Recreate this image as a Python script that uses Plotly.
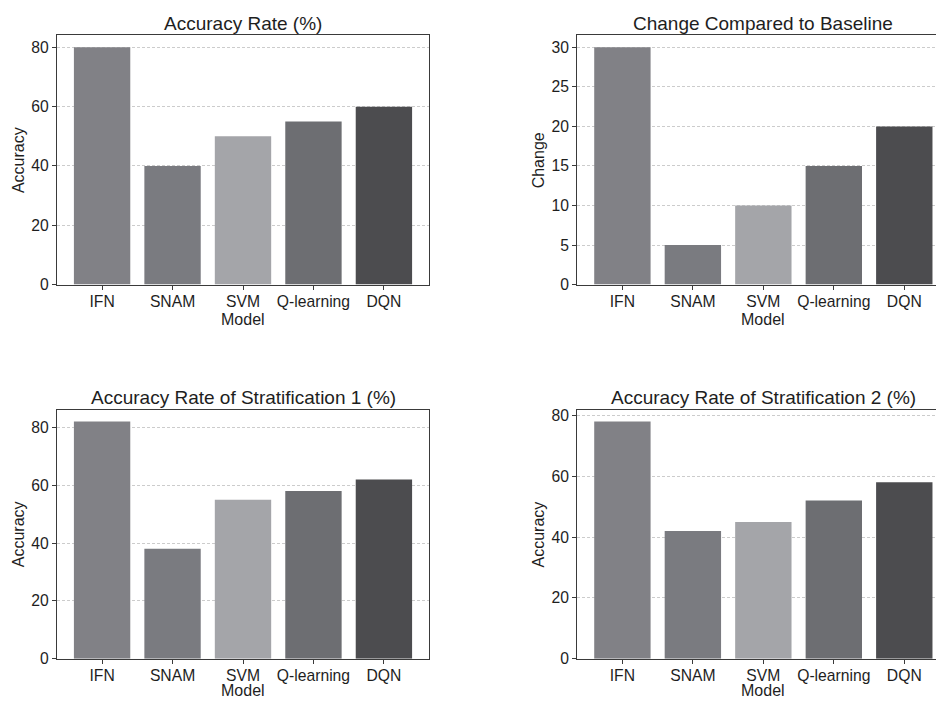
import plotly.graph_objects as go
from plotly.subplots import make_subplots

models = ["IFN", "SNAM", "SVM", "Q-learning", "DQN"]
accuracy = [80, 40, 50, 55, 60]
change = [30, 5, 10, 15, 20]
strat1 = [82, 38, 55, 58, 62]
strat2 = [78, 42, 45, 52, 58]
colors = ["#818186", "#7a7b80", "#a4a5a9", "#6d6e72", "#4c4c4f"]

titles = ["Accuracy Rate (%)", "Change Compared to Baseline",
          "Accuracy Rate of Stratification 1 (%)", "Accuracy Rate of Stratification 2 (%)"]
ylabels = ["Accuracy", "Change", "Accuracy", "Accuracy"]
series = [accuracy, change, strat1, strat2]
dticks = [20, 5, 20, 20]

# figure slightly taller than the 706 px window: the bottom "Model" labels sit at the edge
W, H = 936, 716
fig = make_subplots(rows=2, cols=2)

# pixel frames (left, right, top, bottom)
frames = [(57, 429, 33, 286), (577.3, 936, 33, 286),
          (57, 429, 413, 666), (577.3, 936, 413, 666)]
xranges = [[-0.64, 4.64], [-0.64, 4.45], [-0.64, 4.64], [-0.64, 4.45]]

font = "Liberation Sans, Arial, sans-serif"
axis_color = "#3a3a3a"
text_color = "#1e1e1e"

for i, vals in enumerate(series):
    r, c = i // 2 + 1, i % 2 + 1
    fig.add_trace(go.Bar(x=list(range(len(models))), y=vals, marker_color=colors,
                         marker_line_width=0, width=0.8, showlegend=False), row=r, col=c)
    l, rt, t, b = frames[i]
    ax = "" if i == 0 else str(i + 1)
    ymax = max(vals) * 1.05
    full = i % 2 == 0
    fig.layout["xaxis" + ax].update(
        domain=[l / W, rt / W], range=xranges[i], tickmode="array",
        tickvals=list(range(len(models))), ticktext=models,
        showline=True, linecolor=axis_color, linewidth=1.2, mirror=True,
        ticks="outside", ticklen=4, tickcolor=axis_color, showgrid=False, zeroline=False,
        ticklabelstandoff=-2,
        tickfont=dict(family=font, size=15.7, color=text_color))
    fig.layout["yaxis" + ax].update(
        domain=[1 - b / H, 1 - t / H], range=[0, ymax], dtick=dticks[i],
        showline=True, linecolor=axis_color, linewidth=1.2, mirror=full,
        ticks="outside", ticklen=4, tickcolor=axis_color,
        showgrid=True, gridcolor="#cccccc", griddash="3px,2px", gridwidth=0.8,
        zeroline=False, tickfont=dict(family=font, size=15.7, color=text_color))
    cx = (l + (l + 372)) / 2
    fig.add_annotation(x=cx / W, y=1 - (t - 12) / H, xref="paper", yref="paper",
                       text=titles[i], showarrow=False, xanchor="center", yanchor="middle",
                       font=dict(family=font, size=19, color=text_color))
    fig.add_annotation(x=(l - 39) / W, y=1 - ((t + b) / 2) / H, xref="paper", yref="paper",
                       text=ylabels[i], showarrow=False, textangle=-90,
                       xanchor="center", yanchor="middle",
                       font=dict(family=font, size=16, color=text_color))
    my = b + 35 if i < 2 else b + 32
    fig.add_annotation(x=cx / W, y=1 - my / H, xref="paper", yref="paper",
                       text="Model", showarrow=False, xanchor="center", yanchor="middle",
                       font=dict(family=font, size=16, color=text_color))

fig.update_layout(width=W, height=H, margin=dict(l=0, r=0, t=0, b=0),
                  plot_bgcolor="white", paper_bgcolor="white", bargap=0.2)
fig.write_html("out.html", config={"displayModeBar": False},
               post_script="document.body.style.margin='0';document.body.style.overflow='hidden';")
